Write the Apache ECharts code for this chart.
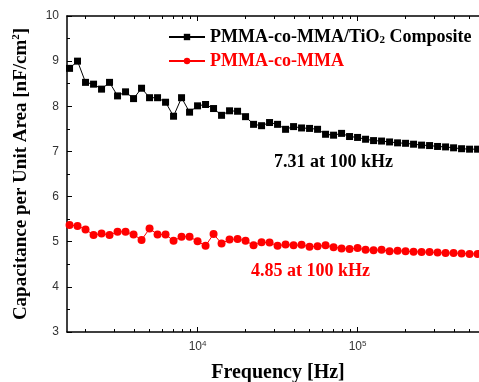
<!DOCTYPE html>
<html>
<head>
<meta charset="utf-8">
<script src="https://cdn.jsdelivr.net/npm/echarts@6/dist/echarts.min.js"></script>
<style>
  html, body { margin: 0; padding: 0; background: #fff; }
  #chart { width: 479px; height: 382px; }
</style>
</head>
<body>
<div id="chart"></div>
<script>
// frequency points (Hz), log spaced
const freqHz = [1585, 1778, 1995, 2239, 2512, 2818, 3162, 3548, 3981, 4467, 5012, 5623, 6310, 7079, 7943, 8913,
  10000, 11220, 12589, 14125, 15849, 17783, 19953, 22387, 25119, 28184, 31623, 35481, 39811, 44668, 50119, 56234,
  63096, 70795, 79433, 89125, 100000, 112202, 125893, 141254, 158489, 177828, 199526, 223872, 251189, 281838,
  316228, 354813, 398107, 446684, 501187, 562341]

// capacitance per unit area (nF/cm2)
const compositeVals = [8.84, 9.00, 8.53, 8.49, 8.38, 8.53, 8.23, 8.32, 8.17, 8.40, 8.19, 8.19, 8.09, 7.78, 8.19, 7.87,
  8.01, 8.04, 7.95, 7.80, 7.90, 7.89, 7.77, 7.60, 7.57, 7.64, 7.60, 7.49, 7.55, 7.52, 7.51, 7.49,
  7.38, 7.36, 7.40, 7.33, 7.31, 7.27, 7.24, 7.23, 7.21, 7.19, 7.18, 7.16, 7.14, 7.13,
  7.11, 7.10, 7.08, 7.06, 7.05, 7.05]
const pureVals = [5.37, 5.35, 5.27, 5.15, 5.18, 5.15, 5.22, 5.22, 5.16, 5.04, 5.29, 5.16, 5.16, 5.02, 5.11, 5.11,
  5.01, 4.91, 5.17, 4.96, 5.05, 5.06, 5.02, 4.92, 4.99, 4.98, 4.91, 4.94, 4.92, 4.93, 4.89, 4.90,
  4.92, 4.88, 4.85, 4.84, 4.86, 4.82, 4.81, 4.82, 4.79, 4.80, 4.79, 4.78, 4.77, 4.77,
  4.76, 4.75, 4.75, 4.74, 4.73, 4.73]

const seriesNames = ['PMMA-co-MMA/TiO2 Composite', 'PMMA-co-MMA']
const majorTicksHz = [10000, 100000]
const minorTicksHz = [2000, 3000, 4000, 5000, 6000, 7000, 8000, 9000,
  20000, 30000, 40000, 50000, 60000, 70000, 80000, 90000,
  200000, 300000, 400000, 500000]
const annotations = ['7.31 at 100 kHz', '4.85 at 100 kHz']

const xMinHz = 1528
const xMaxHz = 574000

const serif = '"Liberation Serif", "Times New Roman", serif'
const sans = '"Liberation Sans", Arial, sans-serif'

const lg = (v) => Math.log10(v)
const xMin = lg(xMinHz)
const xMax = lg(xMaxHz)

const chart = echarts.init(document.getElementById('chart'), null, { renderer: 'canvas' })

// x axis is drawn in log10 space so ticks can sit on 2..9 x 10^n
const baseX = {
  type: 'value',
  min: xMin,
  max: xMax,
  gridIndex: 0,
  splitLine: { show: false },
  axisLine: { show: false, onZero: false },
  axisLabel: { show: false },
}
const xAxes = [
  {
    ...baseX,
    position: 'bottom',
    name: 'Frequency [Hz]',
    nameLocation: 'middle',
    nameGap: 31,
    nameTextStyle: { fontFamily: serif, fontWeight: 'bold', fontSize: 20, color: '#000', padding: [0, 0, 0, 10] },
    axisLine: { show: true, onZero: false, lineStyle: { color: '#000', width: 1.5 } },
    axisTick: { inside: true, length: 5, customValues: majorTicksHz.map(lg), lineStyle: { color: '#000', width: 1 } },
    axisLabel: {
      show: true,
      customValues: majorTicksHz.map(lg),
      margin: 8,
      formatter: (v) => '{b|10}{s|' + Math.round(v) + '}',
      rich: {
        b: { fontFamily: sans, fontSize: 12, color: '#333' },
        s: { fontFamily: sans, fontSize: 8, color: '#333', verticalAlign: 'top', padding: [0, 0, 6, 0] },
      },
    },
  },
  {
    ...baseX,
    position: 'bottom',
    axisTick: { inside: true, length: 3, customValues: minorTicksHz.map(lg), lineStyle: { color: '#000', width: 1 } },
  },
  {
    ...baseX,
    position: 'top',
    axisLine: { show: true, onZero: false, lineStyle: { color: '#000', width: 1.5 } },
    axisTick: { inside: true, length: 5, customValues: majorTicksHz.map(lg), lineStyle: { color: '#000', width: 1 } },
  },
  {
    ...baseX,
    position: 'top',
    axisTick: { inside: true, length: 3, customValues: minorTicksHz.map(lg), lineStyle: { color: '#000', width: 1 } },
  },
]

const option = {
  backgroundColor: '#fff',
  animation: false,
  grid: { left: 67, right: 0, top: 16, bottom: 50, containLabel: false, outerBoundsMode: 'none' },
  legend: {
    orient: 'vertical',
    left: 163,
    top: 23,
    itemWidth: 36,
    itemHeight: 8,
    itemGap: 6,
    data: [
      { name: seriesNames[0], textStyle: { color: '#000' } },
      { name: seriesNames[1], textStyle: { color: '#ff0000' } },
    ],
    formatter: (name) => name === seriesNames[0]
      ? '{t|PMMA-co-MMA/TiO}{d|2}{t| Composite}'
      : '{t|' + name + '}',
    textStyle: {
      fontFamily: serif,
      fontWeight: 'bold',
      fontSize: 18,
      rich: {
        t: { fontFamily: serif, fontWeight: 'bold', fontSize: 18 },
        d: { fontFamily: serif, fontWeight: 'bold', fontSize: 11, verticalAlign: 'bottom', padding: [7, 0, 0, 0] },
      },
    },
  },
  xAxis: xAxes,
  yAxis: {
    type: 'value',
    min: 3,
    max: 10,
    interval: 1,
    name: '{a|Capacitance per Unit Area [nF/cm}{s|2}{a|]}',
    nameLocation: 'middle',
    nameGap: 36,
    nameTextStyle: {
      rich: {
        a: { fontFamily: serif, fontWeight: 'bold', fontSize: 19, color: '#000' },
        s: { fontFamily: serif, fontWeight: 'bold', fontSize: 11, color: '#000', verticalAlign: 'top', padding: [0, 0, 9, 0] },
      },
    },
    splitLine: { show: false },
    axisLine: { show: true, lineStyle: { color: '#000', width: 1.5 } },
    axisTick: { inside: true, length: 5, lineStyle: { color: '#000' } },
    minorTick: { show: true, splitNumber: 2, length: 3, lineStyle: { color: '#000' } },
    axisLabel: { fontFamily: sans, fontSize: 12, color: '#333', margin: 8 },
  },
  graphic: [
    {
      type: 'text',
      left: 274,
      top: 153,
      style: { text: annotations[0], font: 'bold 18px ' + serif, fill: '#000' },
    },
    {
      type: 'text',
      left: 251,
      top: 262,
      style: { text: annotations[1], font: 'bold 18px ' + serif, fill: '#ff0000' },
    },
  ],
  series: [
    {
      name: seriesNames[0],
      type: 'line',
      xAxisIndex: 0,
      data: freqHz.map((f, i) => [lg(f), compositeVals[i]]),
      symbol: 'rect',
      symbolSize: 7,
      itemStyle: { color: '#000' },
      lineStyle: { color: '#000', width: 1 },
      clip: false,
    },
    {
      name: seriesNames[1],
      type: 'line',
      xAxisIndex: 0,
      data: freqHz.map((f, i) => [lg(f), pureVals[i]]),
      symbol: 'circle',
      symbolSize: 8,
      itemStyle: { color: '#ff0000' },
      lineStyle: { color: '#ff0000', width: 1 },
      clip: false,
    },
  ],
}

chart.setOption(option)
</script>
</body>
</html>
